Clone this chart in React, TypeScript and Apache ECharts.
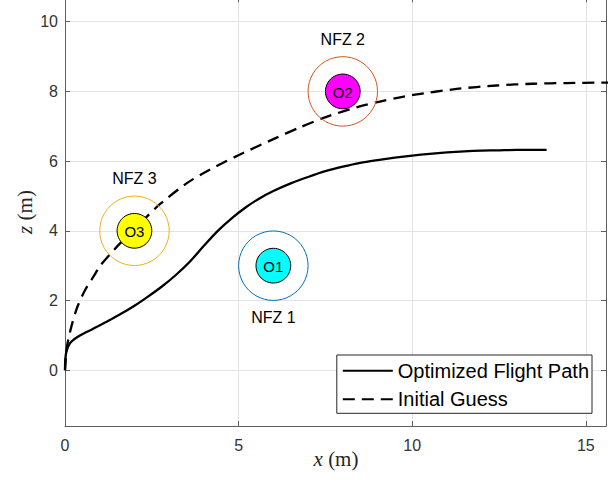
import React, { useEffect, useRef } from 'react';
import * as echarts from 'echarts';

// Optimized flight path (x, z) in metres
const optimizedX = [0, 0.01, 0.05, 0.14, 0.25, 0.43, 0.8, 1.2, 1.6, 2.0, 2.4, 2.8, 3.2, 3.6, 4.0, 4.4, 4.8, 5.2, 5.6, 6.0, 6.5, 7.0, 7.5, 8.0, 8.5, 9.0, 9.5, 10.0, 10.5, 11.0, 11.5, 12.0, 12.5, 13.0, 13.87];
const optimizedZ = [0, 0.33, 0.57, 0.77, 0.88, 1.0, 1.185, 1.39, 1.61, 1.85, 2.12, 2.41, 2.74, 3.12, 3.57, 4.0, 4.36, 4.67, 4.93, 5.14, 5.36, 5.545, 5.71, 5.84, 5.95, 6.03, 6.1, 6.16, 6.21, 6.25, 6.28, 6.3, 6.31, 6.32, 6.32];

// Initial guess (x, z) in metres
const guessX = [0, 0.03, 0.06, 0.17, 0.35, 0.58, 0.86, 1.0, 1.49, 2.16, 2.74, 3.5, 3.98, 4.37, 5.04, 6.0, 6.77, 7.53, 8.49, 9.07, 9.65, 10.03, 11.28, 12.43, 13.48, 14.44, 15.45, 15.7];
const guessZ = [0, 0.4, 0.7, 1.2, 1.8, 2.3, 2.75, 2.98, 3.54, 4.21, 4.77, 5.36, 5.65, 5.86, 6.19, 6.63, 6.97, 7.27, 7.57, 7.71, 7.83, 7.9, 8.07, 8.17, 8.22, 8.24, 8.25, 8.25];

// No-fly zones
const zoneNames = ['O1', 'O2', 'O3'];
const zoneLabels = ['NFZ 1', 'NFZ 2', 'NFZ 3'];
const zoneX = [6, 8, 2];
const zoneZ = [3, 8, 4];
const zoneRadius = [1, 1, 1];
const obstacleRadius = [0.5, 0.5, 0.5];
const zoneLabelOffset = [-1.5, 1.5, 1.5];

// Ticks
const xTicks = [0, 5, 10, 15];
const zTicks = [0, 2, 4, 6, 8, 10];

const RING_COLORS = ['#0072BD', '#D95319', '#EDB120'];
const FILL_COLORS = ['#00FFFF', '#FF00FF', '#FFFF00'];
const SANS = '"Liberation Sans", Arial, Helvetica, sans-serif';
const SERIF = '"Liberation Serif", "Times New Roman", serif';
const AXIS_COLOR = '#5e5e5e';
const LABEL_COLOR = '#333333';

const X_MIN = 0;
const X_MAX = 15.58;
const Z_MIN = -1.6;
const Z_MAX = 10.7;

export default function App() {
  const ref = useRef<HTMLDivElement>(null);

  useEffect(() => {
    if (!ref.current) return;
    const chart = echarts.init(ref.current, null, { renderer: 'svg' });

    const axisLine = { show: true, onZero: false, lineStyle: { color: AXIS_COLOR, width: 1 } };
    const axisTick = { show: true, inside: true, length: 5, lineStyle: { color: AXIS_COLOR, width: 1 } };
    const splitLine = { show: true, lineStyle: { color: '#e3e3e3', width: 1 } };

    const zoneData = zoneX.map((x, i) => [x, zoneZ[i], zoneRadius[i], obstacleRadius[i], zoneLabelOffset[i]]);

    const option: any = {
      animation: false,
      backgroundColor: '#ffffff',
      grid: { left: 65, right: 9, top: -2.7, bottom: 56, outerBoundsMode: 'none', containLabel: false },
      xAxis: [
        {
          type: 'value', position: 'bottom', min: X_MIN, max: X_MAX, interval: 5,
          axisLine, axisTick, splitLine,
          axisLabel: {
            show: true, margin: 11, fontSize: 16, fontFamily: SANS, color: LABEL_COLOR,
            showMaxLabel: false,
            formatter: (v: number) => (xTicks.includes(v) ? String(v) : ''),
          },
        },
        {
          type: 'value', position: 'top', min: X_MIN, max: X_MAX, interval: 5,
          axisLine, axisTick, splitLine: { show: false }, axisLabel: { show: false },
        },
      ],
      yAxis: [
        {
          type: 'value', position: 'left', min: Z_MIN, max: Z_MAX, splitNumber: 6, minInterval: 2, maxInterval: 2,
          axisLine, axisTick, splitLine,
          axisLabel: {
            show: true, margin: 7, fontSize: 16, fontFamily: SANS, color: LABEL_COLOR,
            showMinLabel: false, showMaxLabel: false,
            formatter: (v: number) => (zTicks.includes(v) ? String(v) : ''),
          },
        },
        {
          type: 'value', position: 'right', min: Z_MIN, max: Z_MAX, splitNumber: 6, minInterval: 2, maxInterval: 2,
          axisLine, axisTick, splitLine: { show: false }, axisLabel: { show: false },
        },
      ],
      legend: {
        orient: 'vertical',
        right: 23,
        top: 355,
        data: ['Optimized Flight Path', 'Initial Guess'],
        itemWidth: 50,
        itemHeight: 14,
        itemGap: 4.6,
        padding: [3.7, 3, 2, 5],
        borderColor: '#262626',
        borderWidth: 1,
        borderRadius: 0,
        backgroundColor: '#ffffff',
        selectedMode: false,
        itemStyle: { color: 'rgba(0,0,0,0)', borderColor: 'rgba(0,0,0,0)', borderWidth: 0, opacity: 0 },
        textStyle: { fontSize: 20, fontFamily: SANS, color: '#000000', lineHeight: 24 },
      },
      series: [
        {
          type: 'line',
          name: 'Optimized Flight Path',
          xAxisIndex: 0,
          yAxisIndex: 0,
          z: 3,
          data: optimizedX.map((x, i) => [x, optimizedZ[i]]),
          symbol: 'none',
          showSymbol: false,
          smooth: 0.3,
          clip: true,
          itemStyle: { color: 'rgba(0,0,0,0)', borderWidth: 0 },
          lineStyle: { color: '#000000', width: 2.3, type: 'solid' },
        },
        {
          type: 'line',
          name: 'Initial Guess',
          xAxisIndex: 0,
          yAxisIndex: 0,
          z: 3,
          data: guessX.map((x, i) => [x, guessZ[i]]),
          symbol: 'none',
          showSymbol: false,
          smooth: 0.3,
          clip: true,
          itemStyle: { color: 'rgba(0,0,0,0)', borderWidth: 0 },
          lineStyle: { color: '#000000', width: 2.3, type: [12, 7] },
        },
        {
          type: 'custom',
          name: 'zones',
          xAxisIndex: 0,
          yAxisIndex: 0,
          z: 4,
          data: zoneData,
          renderItem: (params: any, api: any) => {
            const i = params.dataIndex;
            const cx = api.value(0);
            const cz = api.value(1);
            const c = api.coord([cx, cz]);
            const s = api.size([1, 1]);
            const rOuter = api.value(2) * s[0];
            const rInner = api.value(3) * s[0];
            const lab = api.coord([cx, cz + api.value(4)]);
            return {
              type: 'group',
              children: [
                { type: 'circle', shape: { cx: c[0], cy: c[1], r: rOuter }, style: { fill: 'none', stroke: RING_COLORS[i], lineWidth: 1 } },
                { type: 'circle', shape: { cx: c[0], cy: c[1], r: rInner }, style: { fill: FILL_COLORS[i], stroke: '#000000', lineWidth: 1 } },
                { type: 'text', x: c[0], y: c[1] + 1, style: { text: zoneNames[i], fill: '#000000', fontSize: 15, fontFamily: SANS, align: 'center', verticalAlign: 'middle' } },
                { type: 'text', x: lab[0], y: lab[1], style: { text: zoneLabels[i], fill: '#000000', fontSize: 16, fontFamily: SANS, align: 'center', verticalAlign: 'middle' } },
              ],
            };
          },
        },
      ],
      graphic: [
        {
          type: 'text',
          x: 336,
          y: 459,
          style: {
            text: '{i|x} (m)',
            rich: { i: { fontStyle: 'italic', fontFamily: SERIF, fontSize: 21, fill: '#262626' } },
            fontFamily: SERIF,
            fontSize: 21,
            fill: '#262626',
            align: 'center',
            verticalAlign: 'middle',
          },
        },
        {
          type: 'text',
          x: 25,
          y: 212,
          rotation: Math.PI / 2,
          style: {
            text: '{i|z} (m)',
            rich: { i: { fontStyle: 'italic', fontFamily: SERIF, fontSize: 21, fill: '#262626' } },
            fontFamily: SERIF,
            fontSize: 21,
            fill: '#262626',
            align: 'center',
            verticalAlign: 'middle',
          },
        },
      ],
    };

    chart.setOption(option);
    return () => chart.dispose();
  }, []);

  return (
    <div
      ref={ref}
      style={{ position: 'fixed', left: 0, top: 0, width: 615, height: 482, background: '#ffffff' }}
    />
  );
}
